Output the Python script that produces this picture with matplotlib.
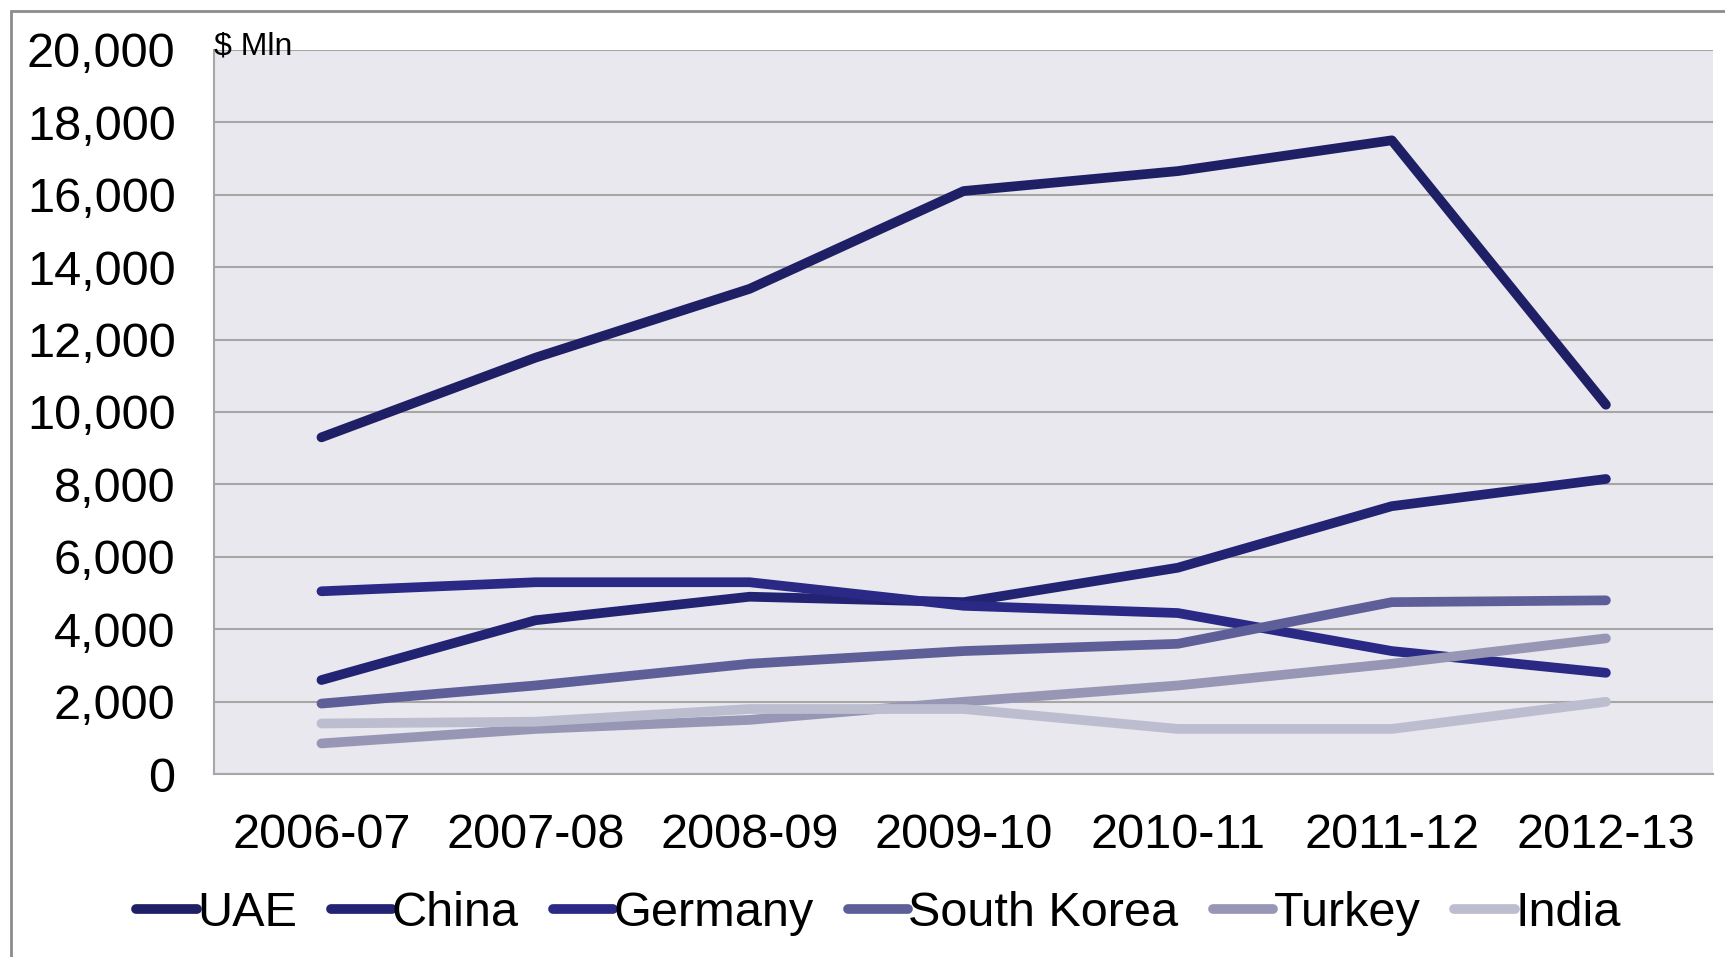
import matplotlib
matplotlib.use("Agg")
import matplotlib.pyplot as plt
from matplotlib.patches import Rectangle
from matplotlib.ticker import FuncFormatter

# ---- Data ($ Mln) ----
years = ["2006-07", "2007-08", "2008-09", "2009-10", "2010-11", "2011-12", "2012-13"]
uae = [9300, 11500, 13400, 16100, 16650, 17500, 10200]
china = [2600, 4250, 4900, 4750, 5700, 7400, 8150]
germany = [5050, 5300, 5300, 4650, 4450, 3400, 2800]
south_korea = [1950, 2450, 3050, 3400, 3600, 4750, 4800]
turkey = [850, 1250, 1500, 2000, 2450, 3050, 3750]
india = [1400, 1450, 1800, 1800, 1250, 1250, 2000]

series = [
    ("UAE", uae, "#1f1f66"),
    ("China", china, "#232374"),
    ("Germany", germany, "#2a2a86"),
    ("South Korea", south_korea, "#5e5e98"),
    ("Turkey", turkey, "#9797b5"),
    ("India", india, "#bdbdd0"),
]

plt.rcParams["font.family"] = ["Liberation Sans", "DejaVu Sans"]

fig = plt.figure(figsize=(17.25, 9.57), dpi=100)
ax = fig.add_axes([0.1243, 0.191, 0.8687, 0.757])

# outer frame
fig.patches.append(Rectangle((11 / 1725, -0.1), 1.2, 1 - 11 / 957 + 0.1,
                             transform=fig.transFigure, fill=False,
                             edgecolor="#8c8c8c", linewidth=2))

ax.set_facecolor("#e8e8ee")
x = list(range(len(years)))
for name, vals, color in series:
    ax.plot(x, vals, color=color, linewidth=7, solid_capstyle="round",
            solid_joinstyle="round", label=name)

ax.set_xlim(-0.5, len(years) - 0.5)
ax.set_ylim(0, 20000)
ax.set_yticks(range(0, 20001, 2000))
ax.yaxis.set_major_formatter(FuncFormatter(lambda v, p: f"{int(v):,}"))
ax.set_xticks(x)
ax.set_xticklabels(years)
ax.grid(True, axis="y", color="#a6a6a6", linewidth=1.5)
ax.set_axisbelow(True)
for s in ["top", "right"]:
    ax.spines[s].set_visible(False)
for s in ["left", "bottom"]:
    ax.spines[s].set_color("#a6a6a6")
    ax.spines[s].set_linewidth(1.5)
ax.tick_params(axis="both", length=0, labelsize=35)
ax.tick_params(axis="x", pad=28)
ax.tick_params(axis="y", pad=28)

ax.text(0.0, 1.005, "$ Mln", transform=ax.transAxes, fontsize=23,
        ha="left", va="center")

leg = ax.legend(loc="upper center", bbox_to_anchor=(0.443, -0.135), ncol=6,
                frameon=False, fontsize=35, handlelength=1.25,
                handletextpad=0.0, columnspacing=0.7, borderaxespad=0)

fig.savefig("out.png", dpi=100)
